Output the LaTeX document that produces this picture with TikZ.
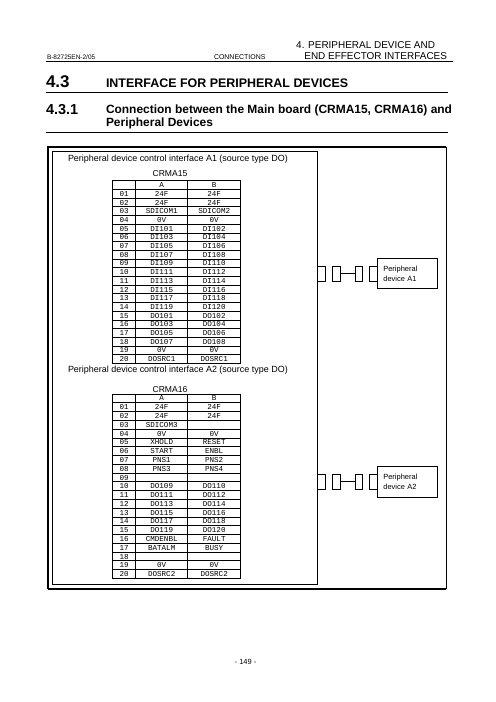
\documentclass[tikz,border=0pt]{standalone}
\usepackage{fontspec}
\setmainfont{Liberation Sans}
\newfontfamily\tabfont{Liberation Mono}
\begin{document}
\begin{tikzpicture}[x=1bp,y=-1bp,
  every node/.style={inner sep=0pt, outer sep=0pt},
  cell/.style={anchor=base, font=\tabfont\fontsize{7.6}{8}\selectfont},
  grid/.style={line width=0.8bp},
  conn/.style={draw, line width=0.8bp, minimum width=7.5bp, minimum height=15.3bp},
  devbox/.style={draw, line width=0.8bp, minimum width=60bp, minimum height=30.3bp, text width=48bp, align=left, inner xsep=6bp, font=\fontsize{7.5}{9.7}\selectfont},
  rule/.style={line width=0.9bp}]
\useasboundingbox (0,0) rectangle (496,702);

% header
\node[anchor=base west, font=\fontsize{6.5}{7}\selectfont] (docno) at (47,59.3) {B-82725EN-2/05};
\node[anchor=base west, font=\fontsize{7}{8}\selectfont] (secname) at (214,59.3) {CONNECTIONS};
\node[anchor=base east, font=\fontsize{10}{11}\selectfont] (chap1) at (435,48.3) {4. PERIPHERAL DEVICE AND};
\node[anchor=base east, font=\fontsize{10}{11}\selectfont] (chap2) at (447,60) {END EFFECTOR INTERFACES};
\draw[rule] (46,61.5) -- (453,61.5);

\node[anchor=base west, font=\bfseries\fontsize{17}{18}\selectfont] (s43) at (46,88) {4.3};
\node[anchor=base west, font=\bfseries\fontsize{12.5}{13}\selectfont] (s43t) at (106,87.3) {INTERFACE FOR PERIPHERAL DEVICES};
\draw[rule] (46,92.3) -- (448,92.3);

\node[anchor=base west, font=\bfseries\fontsize{14.5}{15}\selectfont] (s431) at (46,114.3) {4.3.1};
\node[anchor=base west, font=\bfseries\fontsize{12}{13}\selectfont] (s431a) at (106,114) {Connection between the Main board (CRMA15, CRMA16) and};
\node[anchor=base west, font=\bfseries\fontsize{12}{13}\selectfont] (s431b) at (106,126.8) {Peripheral Devices};
\draw[rule] (46,132.3) -- (448,132.3);

% outer and inner frames
\draw[line width=1.6bp] (48,589) -- (48,147) -- (446,147);
\draw[line width=0.9bp] (446,147) -- (446,589);
\draw[line width=1.4bp] (446,589) -- (48,589);
\draw[line width=0.8bp] (52,151.7) rectangle (317,584);

% titles
\node[anchor=base west, font=\fontsize{9}{10}\selectfont] (titA1) at (68,161.5) {Peripheral device control interface A1 (source type DO)};
\node[anchor=base, font=\fontsize{8.6}{10}\selectfont] (crma15) at (170,176.7) {CRMA15};
\node[anchor=base west, font=\fontsize{9}{10}\selectfont] (titA2) at (68,372) {Peripheral device control interface A2 (source type DO)};
\node[anchor=base, font=\fontsize{8.6}{10}\selectfont] (crma16) at (170,392) {CRMA16};

% table CRMA15
\def\tA{180.7}\def\hA{8.7}
\draw[grid] (112.7,\tA) rectangle (240.7,363.4);
\draw[grid] (135.7,\tA) -- (135.7,363.4);
\draw[grid] (187.7,\tA) -- (187.7,363.4);
\foreach \n/\a/\b [count=\i from 0] in {{}/A/B, 01/24F/24F, 02/24F/24F, 03/SDICOM1/SDICOM2, 04/0V/0V,
  05/DI101/DI102, 06/DI103/DI104, 07/DI105/DI106, 08/DI107/DI108, 09/DI109/DI110, 10/DI111/DI112,
  11/DI113/DI114, 12/DI115/DI116, 13/DI117/DI118, 14/DI119/DI120, 15/DO101/DO102, 16/DO103/DO104,
  17/DO105/DO106, 18/DO107/DO108, 19/0V/0V, 20/DOSRC1/DOSRC1} {
  \pgfmathsetmacro\yb{\tA+(\i+0.5)*\hA+2.6}
  \node[cell] (ta-n\i) at (124.2,\yb) {\n};
  \node[cell] (ta-a\i) at (161.7,\yb) {\a};
  \node[cell] (ta-b\i) at (214.2,\yb) {\b};
  \ifnum\i<20
    \pgfmathsetmacro\yl{\tA+(\i+1)*\hA}
    \draw[grid] (112.7,\yl) -- (240.7,\yl);
  \fi
}

% table CRMA16
\def\tB{394}\def\hB{8.78}
\draw[grid] (112.7,\tB) rectangle (240.7,578.4);
\draw[grid] (135.7,\tB) -- (135.7,578.4);
\draw[grid] (187.7,\tB) -- (187.7,578.4);
\foreach \n/\a/\b [count=\i from 0] in {{}/A/B, 01/24F/24F, 02/24F/24F, 03/SDICOM3/{}, 04/0V/0V,
  05/XHOLD/RESET, 06/START/ENBL, 07/PNS1/PNS2, 08/PNS3/PNS4, 09/{}/{}, 10/DO109/DO110,
  11/DO111/DO112, 12/DO113/DO114, 13/DO115/DO116, 14/DO117/DO118, 15/DO119/DO120, 16/CMDENBL/FAULT,
  17/BATALM/BUSY, 18/{}/{}, 19/0V/0V, 20/DOSRC2/DOSRC2} {
  \pgfmathsetmacro\yb{\tB+(\i+0.5)*\hB+2.6}
  \node[cell] (tb-n\i) at (124.2,\yb) {\n};
  \node[cell] (tb-a\i) at (161.7,\yb) {\a};
  \node[cell] (tb-b\i) at (214.2,\yb) {\b};
  \ifnum\i<20
    \pgfmathsetmacro\yl{\tB+(\i+1)*\hB}
    \draw[grid] (112.7,\yl) -- (240.7,\yl);
  \fi
}

% connectors A1
\node[conn] (a1c1) at (321.3,273.6) {};
\node[conn] (a1c2) at (336.5,273.6) {};
\node[conn] (a1c3) at (358.8,273.6) {};
\node[conn] (a1c4) at (373.6,273.6) {};
\draw[line width=0.8bp] (a1c2.east) -- (a1c3.west);
\node[devbox, anchor=west] (devA1) at (a1c4.east) {Peripheral\\device A1};

% connectors A2
\node[conn] (a2c1) at (321.3,481.8) {};
\node[conn] (a2c2) at (336.5,481.8) {};
\node[conn] (a2c3) at (358.8,481.8) {};
\node[conn] (a2c4) at (373.6,481.8) {};
\draw[line width=0.8bp] (a2c2.east) -- (a2c3.west);
\node[devbox, anchor=west] (devA2) at (a2c4.east) {Peripheral\\device A2};

% page number
\node[anchor=base, font=\fontsize{7.5}{8}\selectfont] (pageno) at (245.5,664.5) {- 149 -};
\end{tikzpicture}
\end{document}
